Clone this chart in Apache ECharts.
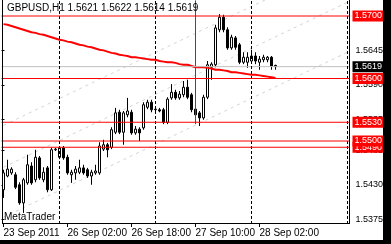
<!DOCTYPE html>
<html><head><meta charset="utf-8">
<script src="https://cdn.jsdelivr.net/npm/echarts@6/dist/echarts.min.js"></script>
<style>html,body{margin:0;padding:0;background:#fff;}#c{width:391px;height:244px;}</style>
</head><body><div id="c"></div>
<script>
// ---- data (GBPUSD H1) ----
const opens = [1.5422,1.5444,1.5449,1.5446,1.5430,1.5401,1.5433,1.5460,1.5438,1.5473,1.5438,1.5457,1.5422,1.5486,1.5474,1.5489,1.5474,1.5446,1.5449,1.5450,1.5457,1.5454,1.5444,1.5449,1.5449,1.5487,1.5494,1.5490,1.5514,1.5546,1.5514,1.5542,1.5546,1.5513,1.5519,1.5521,1.5554,1.5562,1.5550,1.5550,1.5550,1.5530,1.5569,1.5578,1.5569,1.5574,1.5586,1.5574,1.5551,1.5545,1.5537,1.5570,1.5618,1.5622,1.5678,1.5698,1.5678,1.5649,1.5665,1.5654,1.5626,1.5626,1.5628,1.5636,1.5626,1.5630,1.5630,1.5634,1.5621];
const closes = [1.5449,1.5455,1.5455,1.5426,1.5401,1.5438,1.5462,1.5433,1.5474,1.5441,1.5450,1.5422,1.5486,1.5487,1.5489,1.5473,1.5449,1.5450,1.5455,1.5457,1.5449,1.5444,1.5450,1.5452,1.5492,1.5494,1.5486,1.5518,1.5545,1.5514,1.5545,1.5548,1.5513,1.5519,1.5513,1.5558,1.5562,1.5550,1.5551,1.5548,1.5530,1.5567,1.5578,1.5569,1.5575,1.5586,1.5570,1.5550,1.5542,1.5537,1.5570,1.5622,1.5623,1.5681,1.5698,1.5678,1.5649,1.5666,1.5650,1.5626,1.5634,1.5634,1.5636,1.5628,1.5631,1.5634,1.5634,1.5620,1.5619];
const lows = [1.5409,1.5442,1.5446,1.5423,1.5398,1.5385,1.5430,1.5430,1.5434,1.5438,1.5434,1.5418,1.5420,1.5484,1.5471,1.5470,1.5446,1.5433,1.5438,1.5447,1.5446,1.5441,1.5430,1.5446,1.5446,1.5484,1.5474,1.5487,1.5511,1.5511,1.5494,1.5538,1.5510,1.5510,1.5500,1.5518,1.5551,1.5546,1.5546,1.5546,1.5527,1.5527,1.5566,1.5566,1.5566,1.5570,1.5567,1.5546,1.5534,1.5524,1.5534,1.5567,1.5598,1.5618,1.5674,1.5674,1.5646,1.5646,1.5646,1.5623,1.5623,1.5617,1.5625,1.5623,1.5614,1.5626,1.5626,1.5614,1.5614];
const highs = [1.5454,1.5470,1.5458,1.5450,1.5434,1.5441,1.5478,1.5466,1.5486,1.5476,1.5458,1.5460,1.5489,1.5489,1.5492,1.5492,1.5478,1.5454,1.5460,1.5470,1.5462,1.5457,1.5454,1.5462,1.5498,1.5502,1.5497,1.5522,1.5553,1.5550,1.5548,1.5569,1.5550,1.5524,1.5522,1.5562,1.5566,1.5566,1.5554,1.5553,1.5553,1.5570,1.5591,1.5582,1.5580,1.5596,1.5598,1.5577,1.5554,1.5548,1.5574,1.5628,1.5626,1.5686,1.5703,1.5702,1.5682,1.5670,1.5668,1.5657,1.5642,1.5642,1.5646,1.5642,1.5636,1.5638,1.5636,1.5636,1.5622];
const movingAverage = [1.5687,1.5686,1.5684,1.5682,1.5680,1.5678,1.5676,1.5674,1.5673,1.5671,1.5670,1.5668,1.5666,1.5664,1.5662,1.5661,1.5659,1.5658,1.5656,1.5654,1.5653,1.5651,1.5650,1.5648,1.5646,1.5645,1.5643,1.5641,1.5640,1.5638,1.5637,1.5636,1.5634,1.5634,1.5633,1.5632,1.5631,1.5630,1.5630,1.5628,1.5627,1.5626,1.5626,1.5625,1.5623,1.5622,1.5622,1.5620,1.5618,1.5618,1.5618,1.5617,1.5616,1.5614,1.5614,1.5613,1.5612,1.5610,1.5610,1.5609,1.5608,1.5607,1.5606,1.5606,1.5605,1.5604,1.5603,1.5602,1.5601];
const levelPrices = [1.5700, 1.5600, 1.5530, 1.5490, 1.5500];
const bidPrice = 1.5619;
const yTickValues = [1.5375, 1.5430, 1.5485, 1.5535, 1.5590, 1.5645];
const xTickIndex = [0, 16, 32, 48, 64];
const xTickLabels = ['23 Sep 2011', '26 Sep 02:00', '26 Sep 18:00', '27 Sep 10:00', '28 Sep 02:00'];
const daySeparators = [14, 38, 62, 86];
const verticalMarkIndex = 48;
const verticalMarkRange = [1.5725, 1.5527];
const diagStartIdx = 0, diagEndIdx = 86;
const diagStartPrice = [1.5525, 1.5458, 1.5378];
const diagEndPrice = [1.5789, 1.5722, 1.5642];
const headerText = 'GBPUSD,H1 1.5621 1.5622 1.5614 1.5619';
const totalSlots = 87;

const categories = [];
for (let i = 0; i < totalSlots; i++) {
  if (i < 14) categories.push('23 Sep ' + String(10 + i).padStart(2, '0') + ':00');
  else { const d = 26 + Math.floor((i - 14) / 24), h = (i - 14) % 24; categories.push(d + ' Sep ' + String(h).padStart(2, '0') + ':00'); }
}
const candleData = opens.map((o, i) => [o, closes[i], lows[i], highs[i]]);

const FONT = 'Liberation Sans';
const chart = echarts.init(document.getElementById('c'), null, {renderer: 'canvas'});
const diagSeries = diagStartPrice.map((p, j) => ({
  type: 'line', silent: true, z: 1, showSymbol: false, symbol: 'none',
  data: [[diagStartIdx, p], [diagEndIdx, diagEndPrice[j]]],
  lineStyle: {color: '#d4d4d4', width: 1, type: [3, 4]}
}));
// horizontal price levels: drawn on a hidden 0..1 overlay x axis spanning the plot
function levelSeries(price, lineColor, boxColor, z) {
  return {
    type: 'line', xAxisIndex: 1, z: z, silent: true, showSymbol: false, symbol: 'none', clip: false,
    data: [[0, price], [1, price]],
    lineStyle: {color: lineColor, width: 1},
    endLabel: {show: true, distance: 3, formatter: () => price.toFixed(4),
      color: '#fff', backgroundColor: boxColor, padding: [1, 2, 1, 2], fontFamily: FONT, fontSize: 9, lineHeight: 9}
  };
}
const levelSeriesList = [levelSeries(bidPrice, '#c0c0c0', '#000', 4)]
  .concat(levelPrices.map((p, i) => levelSeries(p, '#ff0000', '#ff0000', 5 + i)));

chart.setOption({
  animation: false,
  backgroundColor: '#fff',
  grid: {left: 1.5, right: 41.5, top: 0, height: 224},
  xAxis: [{
    type: 'category', data: categories, boundaryGap: true,
    axisLine: {show: false},
    axisTick: {show: true, alignWithLabel: true, length: 3, lineStyle: {color: '#000'},
      interval: (i) => xTickIndex.indexOf(i) >= 0},
    axisLabel: {show: true, interval: (i) => xTickIndex.indexOf(i) >= 0,
      formatter: (v, i) => xTickLabels[xTickIndex.indexOf(i)] || '',
      align: 'left', margin: 4, color: '#000', fontFamily: FONT, fontSize: 10},
    splitLine: {show: false}
  }, {
    type: 'value', min: 0, max: 1, show: false
  }],
  yAxis: {
    type: 'value', position: 'right', min: 1.53672, max: 1.57256, scale: true,
    axisLine: {show: false},
    axisTick: {show: true, length: 3, customValues: yTickValues, lineStyle: {color: '#000'}},
    axisLabel: {show: true, customValues: yTickValues, formatter: (v) => v.toFixed(4),
      margin: 6, color: '#000', fontFamily: FONT, fontSize: 9},
    splitLine: {show: false}
  },
  series: diagSeries.concat([
    {
      type: 'line', data: [], z: 1, silent: true,
      markLine: {symbol: 'none', silent: true, label: {show: false},
        lineStyle: {color: '#000', width: 1, type: [3, 2]},
        data: daySeparators.map(i => ({xAxis: categories[i]}))}
    },
    {
      type: 'candlestick', data: candleData, z: 2, barWidth: 2,
      itemStyle: {color: '#fff', color0: '#000', borderColor: '#000', borderColor0: '#000', borderWidth: 1}
    },
    {
      type: 'line', data: movingAverage, z: 3, showSymbol: false, symbol: 'none',
      lineStyle: {color: '#ff0000', width: 2}
    },
    {
      type: 'line', z: 4, silent: true, showSymbol: false, symbol: 'none',
      data: [[verticalMarkIndex, verticalMarkRange[0]], [verticalMarkIndex + 0.001, verticalMarkRange[1]]],
      lineStyle: {color: '#ff0000', width: 1}
    }
  ]).concat(levelSeriesList),
  graphic: [
    {type: 'line', shape: {x1: 2.5, y1: 0, x2: 2.5, y2: 224}, style: {stroke: '#000', lineWidth: 1}, z: 10},
    {type: 'line', shape: {x1: 2, y1: 223.5, x2: 350, y2: 223.5}, style: {stroke: '#000', lineWidth: 1}, z: 10},
    {type: 'line', shape: {x1: 349.5, y1: 0, x2: 349.5, y2: 224}, style: {stroke: '#000', lineWidth: 1}, z: 10},
    {type: 'rect', shape: {x: 383, y: 0, width: 8, height: 244}, style: {fill: '#000'}, z: 10},
    {type: 'rect', shape: {x: 0, y: 240, width: 391, height: 4}, style: {fill: '#000'}, z: 10},
    {type: 'text', x: 4, y: 212, z: 10, style: {text: 'MetaTrader', fill: '#000', font: '10px "Liberation Sans"', textVerticalAlign: 'top'}},
    {type: 'text', x: 7, y: 3, z: 10, style: {text: headerText, fill: '#000', font: '10px "Liberation Sans"', textVerticalAlign: 'top'}}
  ]
});
</script></body></html>
